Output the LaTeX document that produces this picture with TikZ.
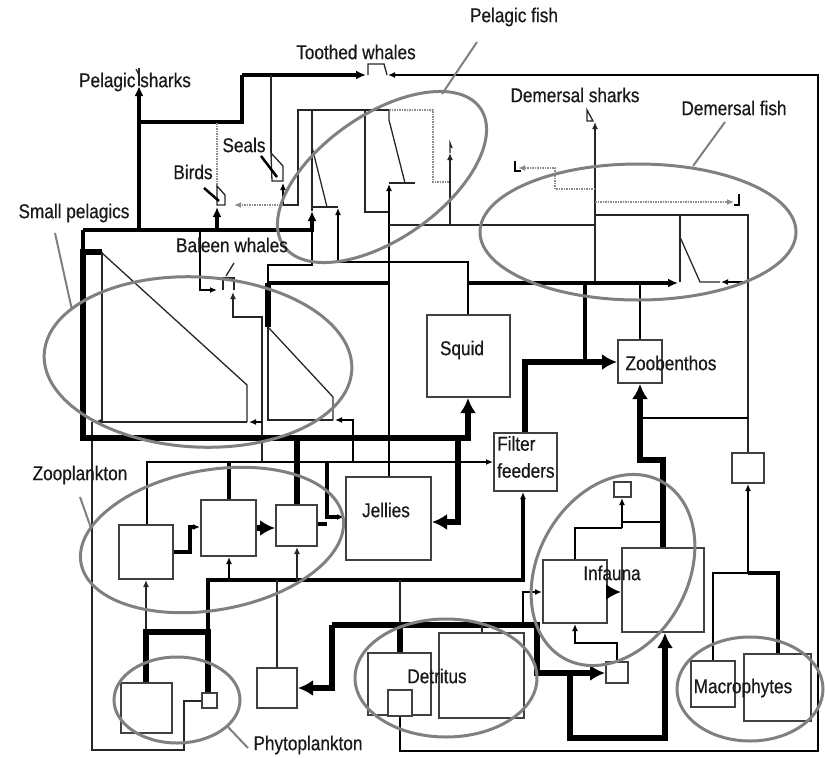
\documentclass[tikz,border=0pt]{standalone}
\usepackage{fontspec}
\setmainfont[FakeStretch=0.86,FakeBold=0.5]{Liberation Sans}
\usetikzlibrary{arrows.meta,fit}
\begin{document}
\begin{tikzpicture}[x=1pt,y=-1pt,
 ln1/.style={line width=1.3pt,draw=black!85},
 ln2/.style={line width=2.2pt},
 ln3/.style={line width=3.2pt},
 ln4/.style={line width=6pt},
 tipS/.style={-{Latex[length=7pt,width=6pt]}},
 tipM/.style={-{Latex[length=10pt,width=9pt]}},
 tipL/.style={-{Latex[length=15pt,width=16pt]}},
 bx/.style={draw=black!75,line width=1.4pt,fill=white,inner sep=0pt},
 ell/.style={draw=black!50,line width=3pt},
 ptr/.style={draw=black!50,line width=2pt},
 dotl/.style={draw=black!45,line width=1.5pt,dash pattern=on 1.5pt off 1pt},
 lbl/.style={font=\fontsize{20}{27}\selectfont,text=black!90,inner sep=0pt}]
\useasboundingbox (0,0) rectangle (825,758);
% frame
\draw[ln2,tipS] (400,716) -- (400,751) -- (818,751) -- (818,75) -- (388,75);
\draw[ln1] (202,701) -- (184,701) -- (184,750) -- (92,750) -- (92,422);
% top left
\draw[ln3] (139,230) -- (139,122) -- (242,122) -- (242,75);
\draw[ln3,tipM] (242,75) -- (366,75);
\draw[ln3,tipM] (139,125) -- (139,86);
\draw[ln1] (139,86) -- (139,68);
\draw[ln1] (136,69) -- (139,75);
\draw[ln1] (368,75) -- (368,64) -- (384,64) -- (387,75);
% seals
\draw[ln1] (271,75) -- (271,153);
\draw[ln1] (271,153) -- (283,166) -- (283,181) -- (272,181) -- cycle;
\draw[line width=2.5pt] (261,156) -- (277,177);
\draw[ln2,tipS] (283,205) -- (283,183);
\draw[ln1] (283,205) -- (298,205) -- (298,110) -- (389,110);
% birds
\draw[dotl] (217,123) -- (217,186);
\draw[dotl,tipS] (283,205) -- (234,205);
\draw[ln1] (217,186) -- (225,195) -- (225,205) -- (217,205) -- cycle;
\draw[line width=2.5pt] (204,188) -- (219,201);
\draw[ln3,tipM] (217,231) -- (217,207);
% baleen whales
\draw[ln2,tipS] (200,230) -- (200,290) -- (217,290);
\draw[ln1] (223,290) -- (223,278) -- (234,278) -- (234,290);
\draw[ln1] (226,276) -- (234,263);
\draw[ln1,tipS] (262,462) -- (262,317) -- (233,317) -- (233,292);
% small pelagics
\draw[ln3] (83,230) -- (312,230);
\draw[ln3] (83,230) -- (83,252);
\draw[ln4] (80,252) -- (102,252);
\draw[ln4,tipL] (83,250) -- (83,438) -- (468,438) -- (468,398);
\draw[ln1] (102,252) -- (102,422) -- (247,422);
\draw[ln1] (102,253) -- (247,385) -- (247,422);
\draw[ln1,tipS] (104,422) -- (94,422);
\draw[ln2,tipS] (262,422) -- (249,422);
\draw[ln4] (268,283) -- (268,327);
\draw[ln3] (268,283) -- (389,283);
\draw[ln2] (312,230) -- (312,265) -- (268,265) -- (268,283);
\draw[ln3,tipM] (312,232) -- (312,211);
\draw[ln1] (268,327) -- (268,420) -- (333,420);
\draw[ln1] (268,327) -- (333,397) -- (333,420);
\draw[ln2,tipS] (353,462) -- (353,420) -- (335,420);
% pelagic fish
\draw[ln1] (312,110) -- (312,211);
\draw[ln1] (312,147) -- (327,207);
\draw[ln1] (312,207) -- (338,207);
\draw[ln2,tipS] (338,262) -- (338,208);
\draw[ln1] (365,110) -- (365,212) -- (389,212);
\draw[ln1] (389,110) -- (389,120) -- (405,183);
\draw[ln1] (389,183) -- (415,183);
\draw[ln2,tipS] (389,477) -- (389,184);
\draw[ln2] (338,262) -- (468,262) -- (468,315);
\draw[dotl] (389,110) -- (433,110) -- (433,182) -- (450,182);
\draw[ln1] (389,225) -- (595,225);
\draw[ln1,tipS] (450,225) -- (450,153);
\draw[ln1] (450,153) -- (450,143) -- (452,148);
% demersal
\draw[ln1,tipS] (595,282) -- (595,122);
\draw[ln1] (587,110) -- (593,121) -- (587,121) -- cycle;
\draw[dotl,tipS] (595,189) -- (555,189) -- (555,168) -- (518,168);
\draw[line width=2pt] (515,161) -- (515,171) -- (521,171);
\draw[dotl,tipS] (595,202) -- (734,202);
\draw[line width=2pt] (739,194) -- (739,205) -- (734,205);
\draw[ln1] (595,215) -- (748,215) -- (748,453);
\draw[ln1] (680,215) -- (680,282);
\draw[ln1] (680,237) -- (700,282) -- (720,282);
\draw[ln2,tipS] (748,282) -- (721,282);
\draw[ln3,tipM] (468,283) -- (678,283);
\draw[ln3] (585,283) -- (585,362);
\draw[ln2] (640,283) -- (640,340);
\draw[ln4,tipL] (525,433) -- (525,362) -- (617,362);
\draw[ln2] (640,418) -- (748,418);
\draw[ln4,tipL] (663,548) -- (663,460) -- (640,460) -- (640,384);
% macrophytes
\draw[ln2,tipS] (748,573) -- (748,484);
\draw[ln3] (748,573) -- (778,573) -- (778,654);
\draw[ln2] (748,573) -- (713,573) -- (713,661);
% jellies
\draw[ln4,tipL] (458,438) -- (458,522) -- (432,522);
% zooplankton
\draw[ln2,tipS] (147,525) -- (147,462) -- (493,462);
\draw[ln3] (229,462) -- (229,500);
\draw[ln4] (297,438) -- (297,505);
\draw[ln3,tipS] (327,462) -- (327,517) -- (344,517);
\draw[ln3] (317,524) -- (327,524);
\draw[ln3,tipS] (173,552) -- (190,552) -- (190,527) -- (200,527);
\draw[ln4,tipL] (256,528) -- (275,528);
% bottom left
\draw[ln1,tipS] (146,632) -- (146,580);
\draw[ln4] (146,683) -- (146,632) -- (208,632) -- (208,693);
\draw[ln3,tipS] (208,632) -- (208,580) -- (523,580) -- (523,492);
\draw[ln2,tipS] (229,580) -- (229,557);
\draw[ln1,tipS] (297,580) -- (297,547);
\draw[ln1] (277,580) -- (277,668);
\draw[ln1] (400,580) -- (400,625);
% detritus
\draw[ln4] (400,625) -- (400,653);
\draw[ln4,tipL] (332,625) -- (537,625) -- (537,673) -- (605,673);
\draw[ln4,tipL] (332,625) -- (332,688) -- (298,688);
\draw[ln4,tipL] (570,673) -- (570,738) -- (665,738) -- (665,633);
\draw[ln1] (482,625) -- (482,633);
\draw[ln2,tipS] (523,625) -- (523,592) -- (542,592);
% infauna
\draw[ln2,tipS] (617,662) -- (617,643) -- (575,643) -- (575,624);
\draw[ln2] (575,560) -- (575,528) -- (622,528);
\draw[ln2,tipS] (622,528) -- (622,498);
\draw[ln2] (622,522) -- (663,522);
% boxes
\node[bx,fit={(427,315) (510,397)}] (squid) {};
\node[bx,fit={(494,433) (557,491)}] (filter) {};
\node[bx,fit={(346,477) (431,560)}] (jellies) {};
\node[bx,fit={(618,340) (662,383)}] (zoob) {};
\node[bx,fit={(732,453) (764,483)}] (rbox) {};
\node[bx,fit={(119,525) (173,579)}] (z1) {};
\node[bx,fit={(201,500) (256,556)}] (z2) {};
\node[bx,fit={(276,505) (317,546)}] (z3) {};
\node[bx,fit={(121,683) (172,733)}] (p1) {};
\node[bx,fit={(202,693) (217,708)}] (p2) {};
\node[bx,fit={(257,668) (297,708)}] (xb) {};
\node[bx,fit={(368,653) (431,715)}] (da) {};
\node[bx,fit={(439,633) (524,718)}] (db) {};
\node[bx,fit={(388,690) (412,716)}] (dc) {};
\node[bx,fit={(543,560) (607,623)}] (i1) {};
\node[bx,fit={(622,548) (704,632)}] (i2) {};
\node[bx,fit={(614,482) (631,497)}] (it) {};
\node[bx,fit={(606,662) (628,683)}] (ib) {};
\node[bx,fit={(691,661) (735,707)}] (m1) {};
\node[bx,fit={(744,654) (811,721)}] (m2) {};
\draw[ln4,tipL] (i1.east |- 0,592) -- (621,592);
% ellipses
\draw[ell,rotate around={35:(382,177)}] (382,177) ellipse [x radius=120,y radius=62];
\draw[ell] (638,232) ellipse [x radius=158,y radius=68];
\draw[ell,rotate around={-3:(198,362)}] (198,362) ellipse [x radius=154,y radius=85];
\draw[ell,rotate around={10:(212,540)}] (212,540) ellipse [x radius=133,y radius=70];
\draw[ell] (177,700) ellipse [x radius=63,y radius=43];
\draw[ell] (446,678) ellipse [x radius=91,y radius=59];
\draw[ell,rotate around={61:(613,570)}] (613,570) ellipse [x radius=101,y radius=75];
\draw[ell] (750,689) ellipse [x radius=73,y radius=52];
% pointers
\draw[ptr] (55,233) -- (72,310);
\draw[ptr] (477,42) -- (442,94);
\draw[ptr] (725,122) -- (693,166);
\draw[ptr] (80,497) -- (91,528);
\draw[ptr] (228,727) -- (248,748);
% labels
\node[lbl] (tl1) at (356,52) {Toothed whales};
\node[lbl] (tl2) at (135,82) {Pelagic sharks};
\node[lbl] (tl3) at (514,17) {Pelagic fish};
\node[lbl] (tl4) at (575,95) {Demersal sharks};
\node[lbl] (tl5) at (734,108) {Demersal fish};
\node[lbl] (tl6) at (244,145) {Seals};
\node[lbl] (tl7) at (193,172) {Birds};
\node[lbl] (tl8) at (74,213) {Small pelagics};
\node[lbl] (tl9) at (232,245) {Baleen whales};
\node[lbl] (tl10) at (462,350) {Squid};
\node[lbl] (tl11) at (671,363) {Zoobenthos};
\node[lbl,align=left,anchor=north west] (tl12) at (497,436) {Filter\\feeders};
\node[lbl] (tl13) at (386,510) {Jellies};
\node[lbl] (tl14) at (80,475) {Zooplankton};
\node[lbl] (tl15) at (612,573) {Infauna};
\node[lbl] (tl16) at (437,676) {Detritus};
\node[lbl] (tl17) at (743,688) {Macrophytes};
\node[lbl] (tl18) at (308,745) {Phytoplankton};
\end{tikzpicture}
\end{document}
